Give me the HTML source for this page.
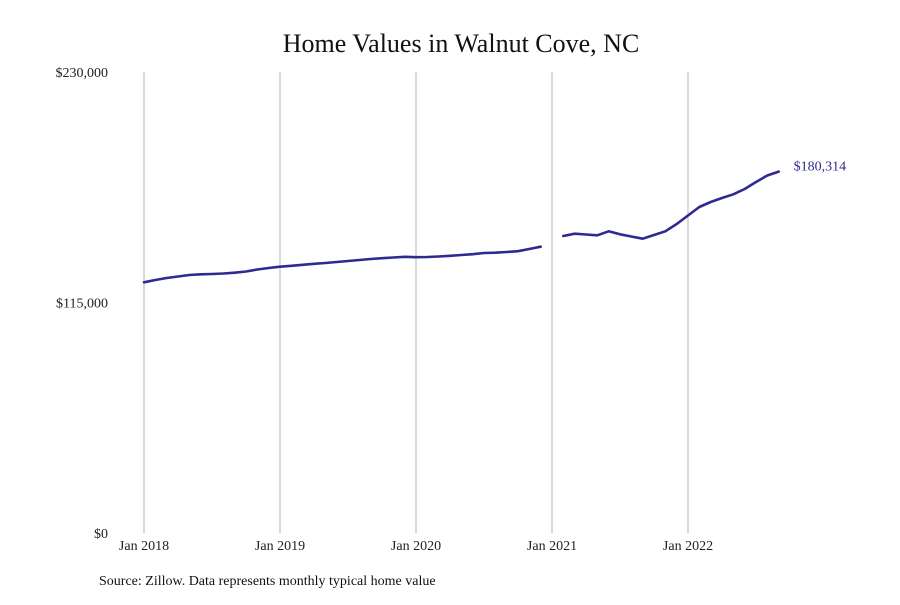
<!DOCTYPE html>
<html><head><meta charset="utf-8"><style>
body{margin:0;background:#fff;font-family:"Liberation Serif",serif;}
svg text{font-family:"Liberation Serif",serif;}
</style></head><body>
<svg width="900" height="600" xmlns="http://www.w3.org/2000/svg">
<rect width="900" height="600" fill="#fff"/>
<text x="461" y="52" font-size="26" text-anchor="middle" fill="#111">Home Values in Walnut Cove, NC</text>
<g id="grid"></g><g id="yaxis"></g><g id="xaxis"></g><g id="series"></g>
<text x="99" y="585" font-size="14" fill="#111">Source: Zillow. Data represents monthly typical home value</text>
</svg>
<script>
const yTicks=[0,115000,230000];
const yTickLabels=["$0","$115,000","$230,000"];
const xTickMonths=[0,12,24,36,48];
const xTickLabels=["Jan 2018","Jan 2019","Jan 2020","Jan 2021","Jan 2022"];
const values=[125075,126222,127220,127968,128716,129066,129215,129465,129864,130463,131461,132209,
132857,133306,133805,134304,134703,135202,135701,136200,136699,137098,137447,137796,
137597,137696,137946,138295,138694,139093,139692,139842,140190,140590,141688,142836,
null,148175,149323,148924,148525,150520,149025,147926,146828,148672,150520,154160,
158400,162640,165140,167130,168980,171620,175110,178360,180314];
const lastLabel="$180,314";
const NS="http://www.w3.org/2000/svg";
const x=m=>144+m*(544/48);
const y=v=>533-v*(461/230000);
function mk(t,a,p){const e=document.createElementNS(NS,t);for(const k in a)e.setAttribute(k,a[k]);p.appendChild(e);return e;}
const grid=document.getElementById('grid'),ya=document.getElementById('yaxis'),xa=document.getElementById('xaxis'),se=document.getElementById('series');
xTickMonths.forEach((m,i)=>{
 const l=mk('line',{x1:x(m),x2:x(m),y1:72,y2:533,stroke:'#b5b5b5','stroke-width':1},grid);
 
 
 const t=mk('text',{x:x(m),y:550,'font-size':14,'text-anchor':'middle',fill:'#222'},xa);
 t.textContent=xTickLabels[i];
 
 
});
yTicks.forEach((v,i)=>{
 const t=mk('text',{x:108,y:y(v)+5,'font-size':14,'text-anchor':'end',fill:'#222'},ya);
 t.textContent=yTickLabels[i];
 
 
});
let segs=[],cur=[];
values.forEach((v,i)=>{if(v==null){if(cur.length)segs.push(cur);cur=[];}else cur.push([x(i),y(v)]);});
if(cur.length)segs.push(cur);
segs.forEach(s=>{
 const p=mk('path',{d:'M'+s.map(q=>q[0].toFixed(1)+','+q[1].toFixed(1)).join('L'),fill:'none',stroke:'#2f2a8f','stroke-width':2.6,'stroke-linejoin':'round','stroke-linecap':'round'},se);
 
 
});
const li=values.length-1;
const lt=mk('text',{x:x(li)+15,y:y(values[li])-1,'font-size':14,fill:'#2f2a8f'},se);
lt.textContent=lastLabel;


</script>
</body></html>
